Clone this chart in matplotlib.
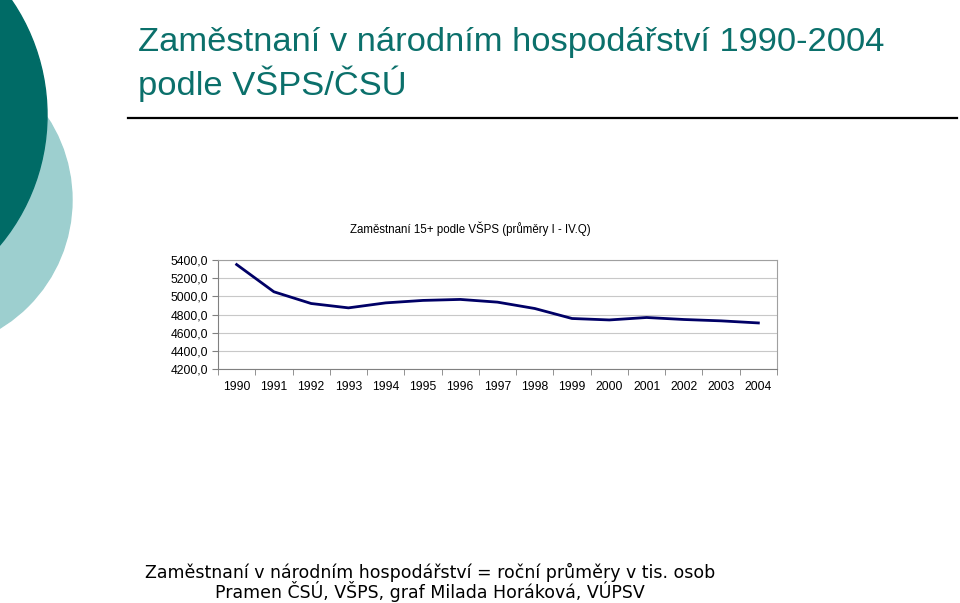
import numpy as np
import matplotlib.pyplot as plt
from matplotlib.patches import Circle

years = [str(y) for y in range(1990, 2005)]
employed = [5350, 5050, 4921, 4873, 4928, 4955, 4966, 4936, 4866, 4756, 4740, 4767, 4745, 4730, 4707]
y_ticks = [4200, 4400, 4600, 4800, 5000, 5200, 5400]

W, H = 960, 603
fig = plt.figure(figsize=(W/100, H/100), dpi=100)

# background decoration in pixel coordinates
bg = fig.add_axes([0, 0, 1, 1])
bg.set_xlim(0, W)
bg.set_ylim(H, 0)
bg.axis("off")
bg.add_patch(Circle((-78, 200), 150, color="#9dcfcf", zorder=1))
bg.add_patch(Circle((-156, 115), 203, color="#006b66", zorder=2))
bg.plot([128, 957], [118, 118], color="black", lw=1.6)

bg.text(138, 43, "Zaměstnaní v národním hospodářství 1990-2004", fontsize=24.8,
        color="#0b706b", va="center", ha="left", family="Liberation Sans")
bg.text(138, 84, "podle VŠPS/ČSÚ", fontsize=24.8,
        color="#0b706b", va="center", ha="left", family="Liberation Sans")
bg.text(470, 229, "Zaměstnaní 15+ podle VŠPS (průměry I - IV.Q)", fontsize=8.3,
        ha="center", va="center", family="Liberation Sans")
bg.text(430, 572, "Zaměstnaní v národním hospodářství = roční průměry v tis. osob",
        fontsize=12.5, ha="center", va="center", family="DejaVu Sans")
bg.text(430, 591, "Pramen ČSÚ, VŠPS, graf Milada Horáková, VÚPSV",
        fontsize=12.5, ha="center", va="center", family="DejaVu Sans")

# chart
x0, x1, ytop, ybot = 218, 777, 260, 369
ax = fig.add_axes([x0/W, 1 - ybot/H, (x1 - x0)/W, (ybot - ytop)/H])
x = np.arange(len(years))
ax.plot(x, employed, color="#000066", lw=2)
ax.set_xlim(-0.5, len(years) - 0.5)
ax.set_ylim(4200, 5400)
ax.set_yticks(y_ticks)
ax.set_yticklabels([f"{v},0" for v in y_ticks], fontsize=8.7, family="Liberation Sans")
ax.set_xticks(x)
ax.set_xticklabels(years, fontsize=8.7, family="Liberation Sans")
ax.set_xticks(np.arange(-0.5, len(years)), minor=True)
ax.tick_params(axis="x", which="major", length=0, pad=9)
ax.tick_params(axis="x", which="minor", length=4, color="#808080", direction="out")
ax.tick_params(axis="y", length=4, color="#808080", direction="out", pad=3)
ax.yaxis.grid(True, color="#c8c8c8", lw=0.8)
ax.set_axisbelow(True)
for s in ax.spines.values():
    s.set_color("#a0a0a0")
    s.set_linewidth(0.8)
ax.spines["left"].set_color("#808080")
ax.spines["bottom"].set_color("#808080")

fig.savefig("out.png", dpi=100)
